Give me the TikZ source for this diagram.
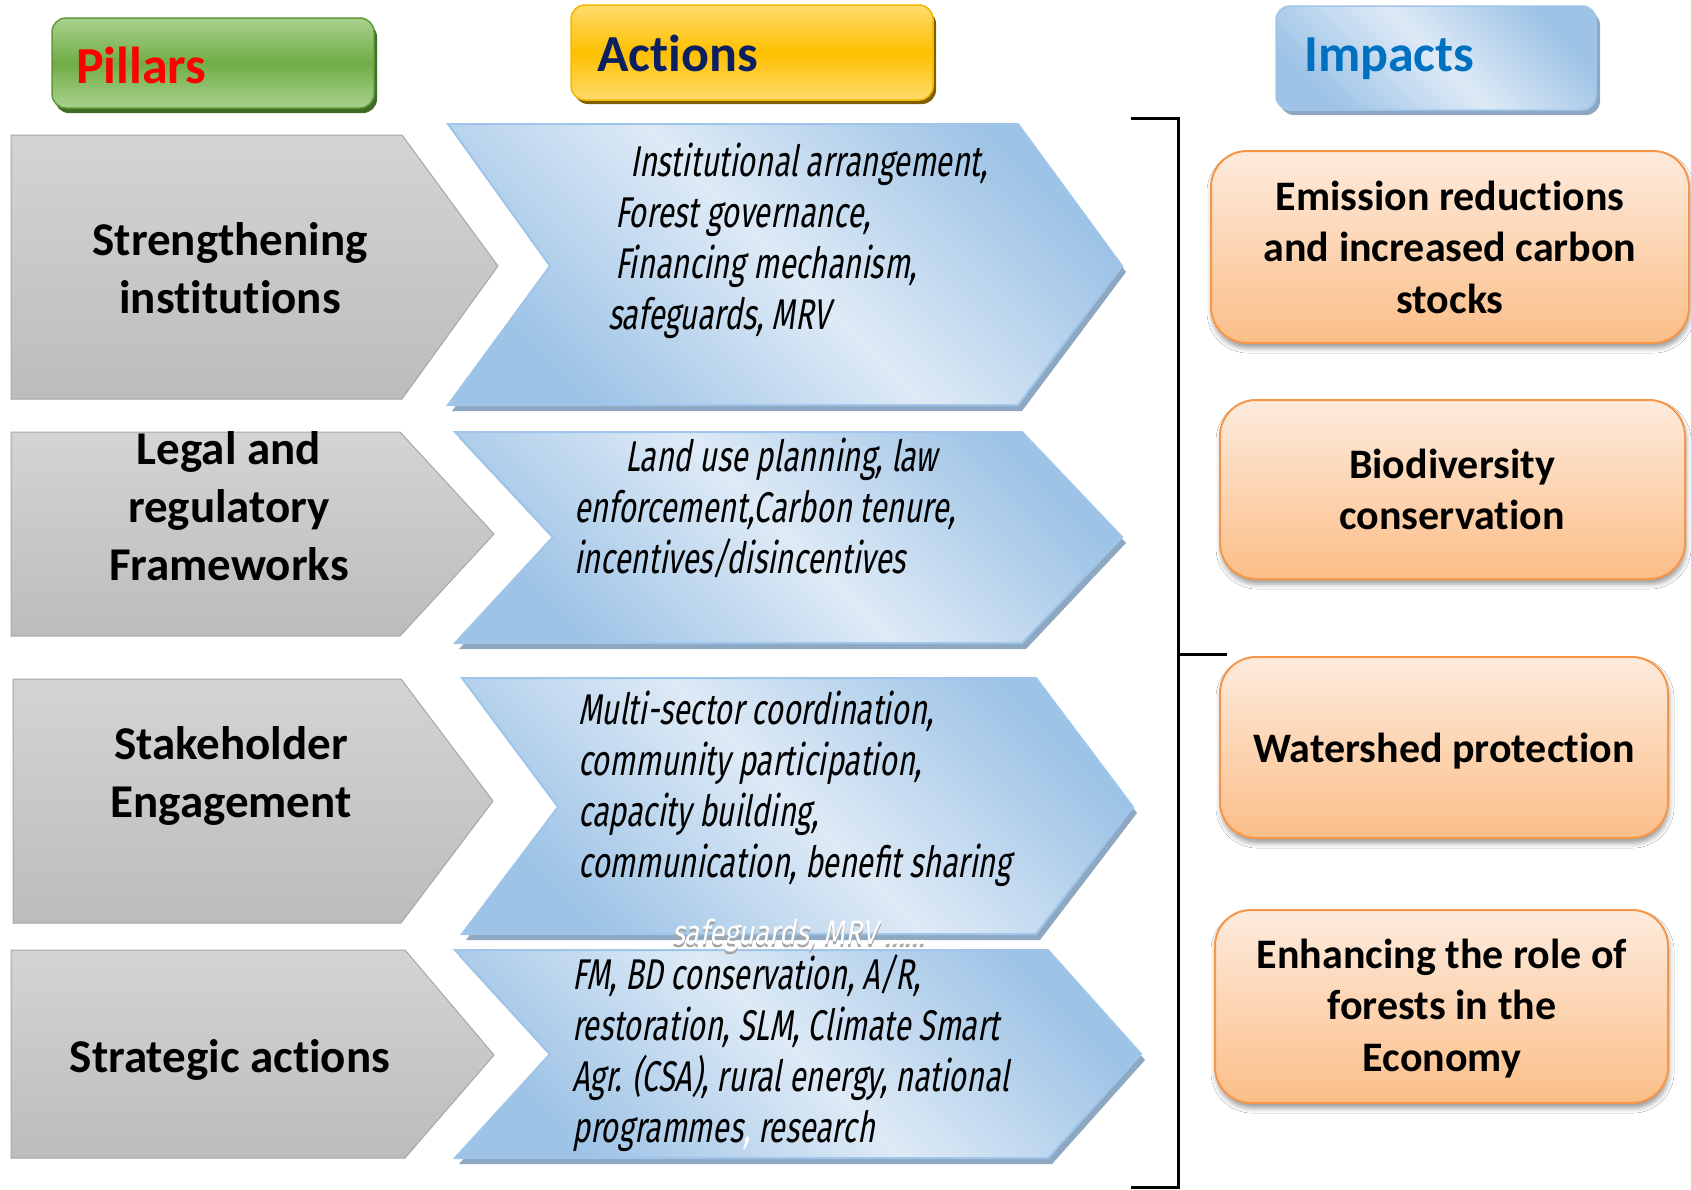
\documentclass[tikz,border=0pt]{standalone}
\usepackage{fontspec}
\setmainfont{Carlito}[Ligatures=NoCommon]
\newfontfamily\actfont[FakeStretch=0.7,FakeSlant=0.18]{Fira Sans}
\newfontfamily\ovfont[FakeStretch=0.82,FakeSlant=0.18]{Fira Sans}
\usetikzlibrary{shadows.blur}
\definecolor{pillTop}{HTML}{A9D18E}
\definecolor{pillMid}{HTML}{70AD47}
\definecolor{pillBorder}{HTML}{5E9A3A}
\definecolor{pillShadow}{HTML}{3E6B27}
\definecolor{actTop}{HTML}{FFDB6E}
\definecolor{actMid}{HTML}{FFC000}
\definecolor{actBorder}{HTML}{F5B800}
\definecolor{actShadow}{HTML}{7F6000}
\definecolor{blueLight}{HTML}{DEEAF6}
\definecolor{blueDark}{HTML}{9DC3E6}
\definecolor{blueBorder}{HTML}{9FC5EA}
\definecolor{blueShadow}{HTML}{8FA8C2}
\definecolor{grayTop}{HTML}{D4D4D4}
\definecolor{grayBot}{HTML}{BCBCBC}
\definecolor{grayBorder}{HTML}{A6A6A6}
\definecolor{orTop}{HTML}{FDEBDD}
\definecolor{orBot}{HTML}{FBBE88}
\definecolor{orBorder}{HTML}{F79646}
\definecolor{navy}{HTML}{0C2060}
\definecolor{impBlue}{HTML}{0070C0}
\newcommand{\linesL}[1]{\begin{tabular}[t]{@{}l@{}}#1\end{tabular}}
\newcommand{\linesC}[1]{\begin{tabular}[t]{@{}c@{}}#1\end{tabular}}
\newcommand{\ovtxt}{safeguards, MRV ......}
\begin{document}
\begin{tikzpicture}[x=1pt,y=-1pt,
  graychev/.style={draw=grayBorder, line width=1pt, top color=grayTop, bottom color=grayBot},
  bluechev/.style={draw=blueBorder, line width=2pt, line join=miter, top color=blueDark, bottom color=blueDark, middle color=blueLight, shading angle=-45},
  blueshadow/.style={fill=blueShadow},
  orbox/.style={draw=orBorder, line width=2pt, rounded corners=36pt, top color=orTop, bottom color=orBot,
     blur shadow={shadow xshift=1pt, shadow yshift=-5pt, shadow blur radius=5pt, shadow opacity=40}},
  pilltext/.style={inner sep=0pt, anchor=base, font=\fontsize{47}{58}\selectfont\bfseries},
  acttext/.style={inner sep=0pt, anchor=base west, font=\fontsize{43}{51}\selectfont\actfont},
  imptext/.style={inner sep=0pt, anchor=base, font=\fontsize{42}{51.5}\selectfont\bfseries},
  headtext/.style={inner sep=0pt, anchor=base west, font=\fontsize{52}{60}\selectfont\bfseries},
  ovtext/.style={inner sep=0pt, anchor=base west, font=\fontsize{34}{38}\selectfont\ovfont},
  bracket/.style={line width=3pt}
]
\useasboundingbox (0,0) rectangle (1691,1189);
\fill[white] (0,0) rectangle (1691,1189);

% ---------- headers ----------
\fill[pillShadow, rounded corners=14pt] (55,23) rectangle (377,113);
\draw[draw=pillBorder, line width=1.5pt, rounded corners=14pt, top color=pillTop, bottom color=pillTop, middle color=pillMid] (52,18) rectangle (374,108);
\node[headtext, text=red] (hPillars) at (76,83) {Pillars};

\fill[actShadow, rounded corners=14pt] (574,10) rectangle (936,104);
\draw[draw=actBorder, line width=1.5pt, rounded corners=14pt, top color=actTop, bottom color=actTop, middle color=actMid] (571,5) rectangle (933,100);
\node[headtext, text=navy] (hActions) at (597,71) {Actions};

\fill[blueShadow, rounded corners=14pt] (1280,11) rectangle (1600,115);
\draw[draw=blueBorder, line width=1.5pt, rounded corners=14pt, top color=blueDark, bottom color=blueDark, middle color=blueLight, shading angle=-45] (1276,6) rectangle (1596,110);
\node[headtext, text=impBlue] (hImpacts) at (1304,71) {Impacts};

% ---------- gray pillar chevrons ----------
\draw[graychev] (11,135) -- (402,135) -- (498,266) -- (402,399) -- (11,399) -- cycle;
\draw[graychev] (11,432) -- (400,432) -- (494,534) -- (400,636) -- (11,636) -- cycle;
\draw[graychev] (13,679) -- (401,679) -- (493,801) -- (401,923) -- (13,923) -- cycle;
\draw[graychev] (11,950) -- (405,950) -- (494,1055) -- (405,1158) -- (11,1158) -- cycle;

\node[pilltext] (p1) at (230,255) {\linesC{Strengthening\\institutions}};
\node[pilltext] (p2) at (229,464) {\linesC{Legal and\\regulatory\\Frameworks}};
\node[pilltext] (p3) at (231,759) {\linesC{Stakeholder\\Engagement}};
\node[pilltext] (p4) at (230,1072) {Strategic actions};

% ---------- blue action chevrons ----------
\fill[blueshadow] (452,130) -- (1022,130) -- (1126,272) -- (1022,411) -- (452,411) -- (554,272) -- cycle;
\draw[bluechev] (448,124) -- (1018,124) -- (1122,266) -- (1018,405) -- (448,405) -- (550,266) -- cycle;
\fill[blueshadow] (459,438) -- (1026,438) -- (1126,543) -- (1026,649) -- (459,649) -- (557,543) -- cycle;
\draw[bluechev] (455,432) -- (1022,432) -- (1122,537) -- (1022,643) -- (455,643) -- (553,537) -- cycle;
\fill[blueshadow] (466,684) -- (1040,684) -- (1137,813) -- (1040,940) -- (466,940) -- (562,813) -- cycle;
\draw[bluechev] (462,678) -- (1036,678) -- (1133,807) -- (1036,934) -- (462,934) -- (558,807) -- cycle;
\fill[blueshadow] (459,956) -- (1052,956) -- (1145,1060) -- (1052,1164) -- (459,1164) -- (554,1060) -- cycle;
\draw[bluechev] (455,950) -- (1048,950) -- (1141,1054) -- (1048,1158) -- (455,1158) -- (550,1054) -- cycle;

\node[acttext] (a1) at (615,176) {\linesL{\hspace*{15pt}Institutional arrangement,\\Forest governance,\\Financing mechanism,\\\hspace*{-7pt}safeguards, MRV}};
\node[acttext] (a2) at (574,471) {\linesL{\hspace*{51pt}Land use planning, law\\enforcement,Carbon tenure,\\incentives/disincentives}};
\node[acttext] (a3) at (578,724) {\linesL{Multi-sector coordination,\\community participation,\\capacity building,\\communication, benefit sharing}};
\node[acttext] (a4) at (572,989) {\linesL{FM, BD conservation, A/R,\\restoration, SLM, Climate Smart\\Agr. (CSA), rural energy, national\\programmes\textcolor{white}{,} research}};

\node[ovtext] (ov) at (672,944) {\rlap{\raisebox{-3pt}{\textcolor{gray!70}{\ovtxt}}}\textcolor{white}{\ovtxt}};

% ---------- bracket ----------
\coordinate (brA) at (1131,118);
\coordinate (brB) at (1178,118);
\coordinate (brC) at (1178,1187);
\coordinate (brD) at (1131,1187);
\coordinate (brM) at (1178,654);
\coordinate (brE) at (1227,654);
\draw[bracket] (brA) -- (brB) -- (brC) -- (brD);
\draw[bracket] (brM) -- (brE);

% ---------- impact boxes ----------
\draw[orbox] (1211,151) rectangle (1689,343);
\draw[orbox] (1220,400) rectangle (1685,579);
\draw[orbox] (1220,657) rectangle (1668,838);
\draw[orbox] (1215,910) rectangle (1668,1103);

\node[imptext] (i1) at (1450,210) {\linesC{Emission reductions\\and increased carbon\\stocks}};
\node[imptext] (i2) at (1452,478) {\linesC{Biodiversity\\conservation}};
\node[imptext] (i3) at (1444,762) {Watershed protection};
\node[imptext] (i4) at (1442,968) {\linesC{Enhancing the role of\\forests in the\\Economy}};
\end{tikzpicture}
\end{document}
